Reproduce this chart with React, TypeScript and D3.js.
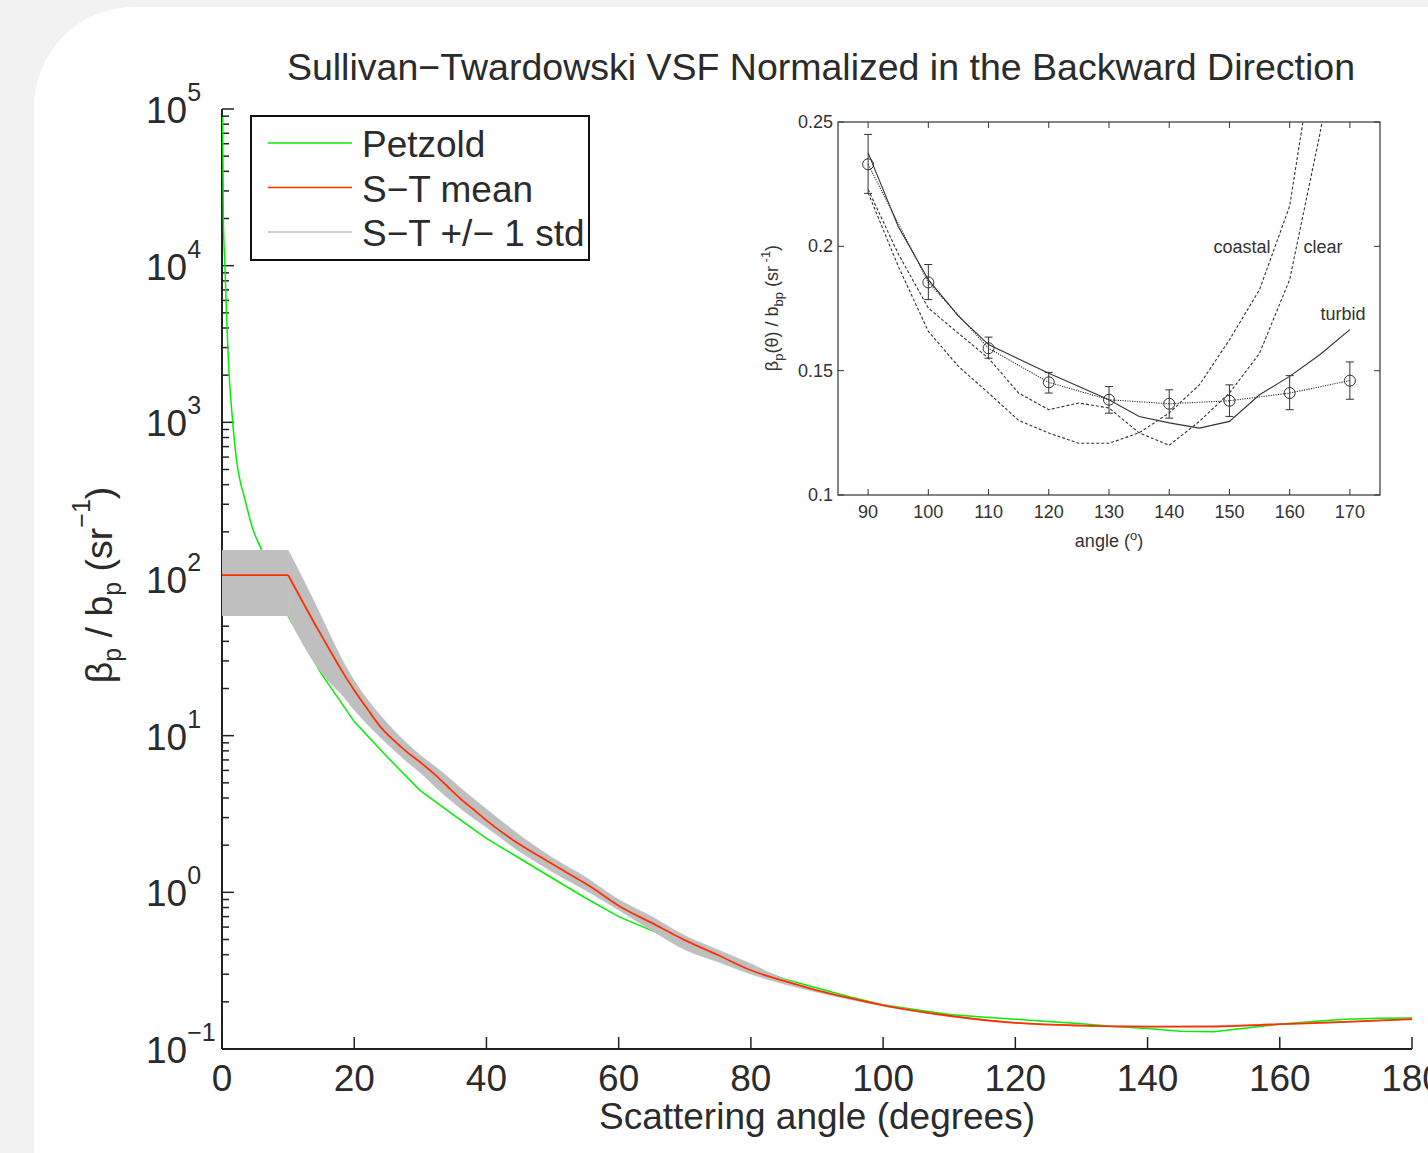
import React from "react";
import * as d3 from "d3";

// ---- main chart data ----
const petzoldAngle = [0.1, 0.2, 0.45, 0.7, 1, 1.5, 2.2, 3.5, 4.7, 6, 8, 10, 15, 20, 25, 30, 35, 40, 45, 50, 55, 60, 65, 70, 75, 80, 85, 90, 95, 100, 105, 110, 115, 120, 125, 130, 135, 140, 145, 150, 155, 160, 165, 170, 175, 180];
const petzoldValue = [8.9e4, 2.0e4, 9.9e3, 4.7e3, 2.3e3, 1.15e3, 575, 319, 206, 153, 90, 58, 25, 12.3, 7.3, 4.46, 3.12, 2.21, 1.65, 1.23, 0.92, 0.7, 0.57, 0.473, 0.4, 0.335, 0.28, 0.245, 0.215, 0.192, 0.178, 0.166, 0.16, 0.155, 0.15, 0.145, 0.139, 0.135, 0.13, 0.129, 0.136, 0.144, 0.15, 0.155, 0.157, 0.158];

const meanAngle = [0, 10, 12, 14, 16, 18, 20, 22, 24, 26, 28, 30, 32, 34, 36, 38, 40, 44, 48, 52, 56, 60, 65, 70, 75, 80, 85, 90, 95, 100, 110, 120, 130, 140, 150, 160, 170, 180];
const meanValue = [106, 106, 74, 52, 37, 26.5, 19.5, 14.8, 11.35, 9.33, 7.85, 6.76, 5.75, 4.79, 3.98, 3.39, 2.88, 2.16, 1.7, 1.35, 1.07, 0.822, 0.638, 0.495, 0.398, 0.318, 0.272, 0.237, 0.211, 0.19, 0.163, 0.147, 0.141, 0.139, 0.139, 0.144, 0.149, 0.155];

const bandAngle = [0, 10, 12, 14, 16, 18, 20, 22, 24, 26, 28, 30, 33, 37, 40, 44, 50, 55, 60, 65, 70, 75, 80, 85, 90, 100, 120, 140, 160, 180];
const bandUpper = [153, 153, 105, 71, 47, 31.6, 22.5, 17.0, 13.4, 10.8, 8.9, 7.5, 6.0, 4.3, 3.4, 2.5, 1.66, 1.25, 0.9, 0.7, 0.53, 0.43, 0.35, 0.28, 0.24, 0.192, 0.148, 0.14, 0.145, 0.156];
const bandLower = [58, 58, 40, 29, 22.5, 18.5, 14.6, 11.8, 9.7, 8.1, 6.8, 5.8, 4.4, 3.2, 2.6, 1.95, 1.35, 1.03, 0.77, 0.57, 0.43, 0.36, 0.3, 0.26, 0.23, 0.188, 0.146, 0.138, 0.143, 0.154];

const xTicks = [0, 20, 40, 60, 80, 100, 120, 140, 160, 180];
const yExponents = [-1, 0, 1, 2, 3, 4, 5];
const legendLabels = ["Petzold", "S\u2212T mean", "S\u2212T +/\u2212 1 std"];

// ---- inset data ----
const insetAngle = [90, 95, 100, 105, 110, 115, 120, 125, 130, 135, 140, 145, 150, 155, 160, 165, 170];
const turbid = [0.2376, 0.208, 0.1866, 0.1719, 0.1605, 0.1547, 0.149, 0.1436, 0.1383, 0.1316, 0.129, 0.1269, 0.1296, 0.1403, 0.1477, 0.1564, 0.1665];
const coastal = [0.2215, 0.192, 0.1658, 0.1517, 0.141, 0.13, 0.1249, 0.1208, 0.1208, 0.125, 0.133, 0.1443, 0.1624, 0.1826, 0.2162, 0.293, 0.36];
const clear = [0.2229, 0.197, 0.1752, 0.165, 0.155, 0.141, 0.1343, 0.137, 0.135, 0.125, 0.12, 0.1296, 0.141, 0.157, 0.1866, 0.245, 0.31];

const meanInsetAngle = [90, 100, 110, 120, 130, 140, 150, 160, 170];
const meanInset = [0.233, 0.1855, 0.159, 0.1453, 0.1383, 0.1367, 0.1379, 0.141, 0.146];
const errLow = [0.2213, 0.1786, 0.155, 0.141, 0.1329, 0.1309, 0.1316, 0.1343, 0.1385];
const errHigh = [0.245, 0.1927, 0.1635, 0.1493, 0.1436, 0.1423, 0.1443, 0.148, 0.1535];

const insetXTicks = [90, 100, 110, 120, 130, 140, 150, 160, 170];
const insetYTicks = [0.1, 0.15, 0.2, 0.25];

const FONT = "'Liberation Sans', Arial, Helvetica, sans-serif";
const TXT = "#2b2b2b";

function Inset() {
  const left = 838, right = 1380, top = 122, bottom = 495;
  const x = d3.scaleLinear().domain([85, 175]).range([left, right]);
  const y = d3.scaleLinear().domain([0.1, 0.25]).range([bottom, top]);
  const line = d3
    .line<[number, number]>()
    .x((d) => x(d[0]))
    .y((d) => y(d[1]));
  const ink = "#333";
  const tick = 6;

  return (
    <g fontFamily={FONT} fill={ink}>
      <defs>
        <clipPath id="insetClip">
          <rect x={left} y={top} width={right - left} height={bottom - top} />
        </clipPath>
      </defs>
      <rect x={left} y={top} width={right - left} height={bottom - top} fill="#fff" stroke={ink} strokeWidth={1.2} />
      {insetXTicks.map((t) => (
        <g key={"ix" + t}>
          <line x1={x(t)} x2={x(t)} y1={bottom} y2={bottom - tick} stroke={ink} />
          <line x1={x(t)} x2={x(t)} y1={top} y2={top + tick} stroke={ink} />
          <text x={x(t)} y={bottom + 23} fontSize={18} textAnchor="middle">{t}</text>
        </g>
      ))}
      {insetYTicks.map((t) => (
        <g key={"iy" + t}>
          <line x1={left} x2={left + tick} y1={y(t)} y2={y(t)} stroke={ink} />
          <line x1={right} x2={right - tick} y1={y(t)} y2={y(t)} stroke={ink} />
          <text x={left - 5} y={y(t) + 6} fontSize={18} textAnchor="end">{t}</text>
        </g>
      ))}
      <text x={1109} y={547} fontSize={18} textAnchor="middle">
        angle (<tspan fontSize={13} dy={-7}>o</tspan><tspan dy={7}>)</tspan>
      </text>
      <text transform="translate(778,308) rotate(-90)" fontSize={18} textAnchor="middle">
        {"\u03b2"}<tspan fontSize={13} dy={5}>p</tspan><tspan dy={-5}>({"\u03b8"}) / b</tspan><tspan fontSize={13} dy={5}>bp</tspan><tspan dy={-5}>{"  (sr"}</tspan><tspan fontSize={13} dy={-8}>{" -1"}</tspan><tspan dy={8}>)</tspan>
      </text>

      <g clipPath="url(#insetClip)" fill="none" stroke={ink} strokeWidth={1.1}>
        <path d={line(insetAngle.map((a, i) => [a, turbid[i]]))!} />
        <path d={line(insetAngle.map((a, i) => [a, coastal[i]]))!} strokeDasharray="3,2" />
        <path d={line(insetAngle.map((a, i) => [a, clear[i]]))!} strokeDasharray="3,2" />
        <path d={line(meanInsetAngle.map((a, i) => [a, meanInset[i]]))!} strokeDasharray="1.2,1.2" />
      </g>
      <g fill="none" stroke={ink} strokeWidth={1}>
        {meanInsetAngle.map((a, i) => (
          <g key={"e" + a}>
            <line x1={x(a)} x2={x(a)} y1={y(errLow[i])} y2={y(errHigh[i])} />
            <line x1={x(a) - 4} x2={x(a) + 4} y1={y(errLow[i])} y2={y(errLow[i])} />
            <line x1={x(a) - 4} x2={x(a) + 4} y1={y(errHigh[i])} y2={y(errHigh[i])} />
            <circle cx={x(a)} cy={y(meanInset[i])} r={5.5} />
          </g>
        ))}
      </g>
      <text x={1242} y={253} fontSize={18} textAnchor="middle">coastal</text>
      <text x={1323} y={253} fontSize={18} textAnchor="middle">clear</text>
      <text x={1343} y={320} fontSize={18} textAnchor="middle">turbid</text>
    </g>
  );
}

export default function App() {
  const W = 1428, H = 1153;
  const left = 222, right = 1412, top = 109, bottom = 1049;
  const x = d3.scaleLinear().domain([0, 180]).range([left, right]);
  const y = d3.scaleLog().domain([0.1, 1e5]).range([bottom, top]);

  const straight = d3
    .line<[number, number]>()
    .x((d) => x(d[0]))
    .y((d) => y(d[1]));
  const smooth = d3
    .line<[number, number]>()
    .x((d) => x(d[0]))
    .y((d) => y(d[1]))
    .curve(d3.curveMonotoneX);

  const pairs = (a: number[], v: number[]) => a.map((t, i) => [t, v[i]] as [number, number]);
  const petz = pairs(petzoldAngle, petzoldValue);
  const petzSplit = petzoldAngle.indexOf(10);
  const mean = pairs(meanAngle, meanValue);

  // band: flat part up to 10 degrees drawn straight, the rest smoothed
  const bandIdx = bandAngle.map((_, i) => i);
  const area = d3
    .area<number>()
    .x((i) => x(bandAngle[i]))
    .y0((i) => y(bandLower[i]))
    .y1((i) => y(bandUpper[i]));
  const areaSmooth = d3
    .area<number>()
    .x((i) => x(bandAngle[i]))
    .y0((i) => y(bandLower[i]))
    .y1((i) => y(bandUpper[i]))
    .curve(d3.curveMonotoneX);

  const minor: number[] = [];
  for (let e = -1; e < 5; e++) for (let m = 2; m <= 9; m++) minor.push(m * Math.pow(10, e));

  const green = "#00f000";
  const red = "#ff3000";
  const band = "#bfbfbf";

  return (
    <svg width={W} height={H} style={{ position: "absolute", left: 0, top: 0, display: "block" }}>
      <rect x={0} y={0} width={W} height={H} fill="#f2f2f2" />
      <rect x={34} y={7} width={W + 200} height={H + 200} rx={100} ry={100} fill="#fff" />

      <g fontFamily={FONT} fill={TXT}>
        <text x={821} y={80} fontSize={37.5} textAnchor="middle">
          Sullivan{"\u2212"}Twardowski VSF Normalized in the Backward Direction
        </text>

        {/* axes */}
        <line x1={left} x2={left} y1={top} y2={bottom} stroke="#222" strokeWidth={2} />
        <line x1={left} x2={right} y1={bottom} y2={bottom} stroke="#222" strokeWidth={2} />
        {minor.map((v) => (
          <line key={"m" + v} x1={left} x2={left + 7} y1={y(v)} y2={y(v)} stroke="#222" strokeWidth={1.5} />
        ))}
        {yExponents.map((e) => (
          <g key={"y" + e}>
            <line x1={left} x2={left + 12} y1={y(Math.pow(10, e))} y2={y(Math.pow(10, e))} stroke="#222" strokeWidth={1.5} />
            <text x={146} y={y(Math.pow(10, e)) + 14} fontSize={37}>
              10<tspan fontSize={25} dy={-22}>{e < 0 ? "\u2212" + Math.abs(e) : e}</tspan>
            </text>
          </g>
        ))}
        {xTicks.map((t) => (
          <g key={"x" + t}>
            <line x1={x(t)} x2={x(t)} y1={bottom} y2={bottom - 12} stroke="#222" strokeWidth={1.5} />
            <text x={x(t)} y={bottom + 42} fontSize={37} textAnchor="middle">{t}</text>
          </g>
        ))}
        <text x={817} y={1129} fontSize={37} textAnchor="middle">Scattering angle (degrees)</text>
        <text transform="translate(112,585) rotate(-90)" fontSize={37.5} textAnchor="middle">
          {"\u03b2"}<tspan fontSize={25} dy={9}>p</tspan><tspan dy={-9}>{" / b"}</tspan><tspan fontSize={25} dy={9}>p</tspan><tspan dy={-9}>{" (sr"}</tspan><tspan fontSize={25} dy={-22}>{"\u22121"}</tspan><tspan dy={22}>)</tspan>
        </text>

        {/* data: Petzold under the band, mean on top */}
        <path d={smooth(petz.slice(0, petzSplit + 1))!} fill="none" stroke={green} strokeWidth={1.5} />
        <path d={straight(petz.slice(petzSplit))!} fill="none" stroke={green} strokeWidth={1.5} />
        <path d={area(bandIdx.slice(0, 2))!} fill={band} stroke="none" />
        <path d={areaSmooth(bandIdx.slice(1))!} fill={band} stroke={band} strokeWidth={0.5} />
        <path d={straight(mean.slice(0, 2))!} fill="none" stroke={red} strokeWidth={1.8} />
        <path d={smooth(mean.slice(1))!} fill="none" stroke={red} strokeWidth={1.8} />

        {/* legend */}
        <rect x={251} y={116} width={338} height={144} fill="#fff" stroke="#111" strokeWidth={2} />
        {[green, red, "#c0c0c0"].map((c, i) => (
          <g key={"l" + i}>
            <line x1={268} x2={352} y1={143 + i * 44.5} y2={143 + i * 44.5} stroke={c} strokeWidth={1.5} />
            <text x={362} y={157 + i * 44.5} fontSize={37}>{legendLabels[i]}</text>
          </g>
        ))}
      </g>

      <Inset />
    </svg>
  );
}
